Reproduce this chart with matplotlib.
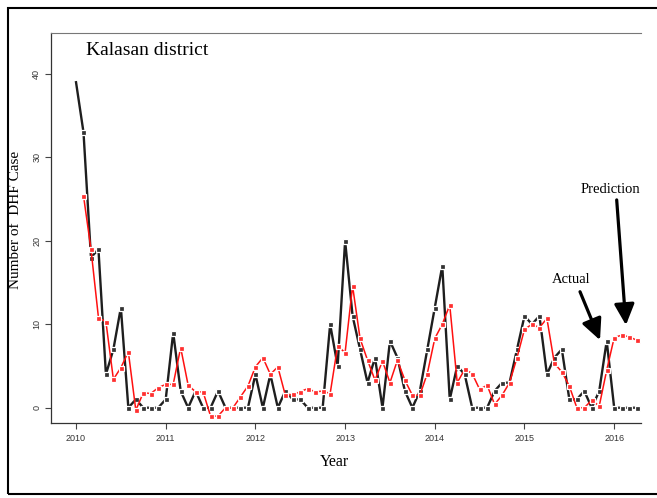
import numpy as np
import matplotlib
matplotlib.use('Agg')
import matplotlib.pyplot as plt
from matplotlib.patches import Rectangle

# monthly DHF cases, Kalasan district, from Jan 2010
actual = [39, 33, 18, 19, 4, 7, 12, 0, 1, 0, 0, 0,
          1, 9, 2, 0, 2, 0, 0, 2, 0, 0, 0, 0,
          4, 0, 4, 0, 2, 1, 1, 0, 0, 0, 10, 5,
          20, 11, 7, 3, 6, 0, 8, 6, 2, 0, 2, 7,
          12, 17, 1, 5, 4, 0, 0, 0, 2, 3, 3, 7,
          11, 10, 11, 4, 6, 7, 1, 1, 2, 0, 2, 8,
          0, 0, 0, 0]
# model prediction, starts Feb 2010
predicted = [25.4, 19.0, 10.8, 10.3, 3.4, 4.8, 6.7, -0.3, 1.8, 1.7, 2.4,
             2.8, 2.8, 7.2, 2.7, 1.9, 1.9, -1.0, -1.0, 0.0, 0.0, 1.3, 2.6,
             4.9, 6.0, 4.0, 4.9, 1.5, 1.6, 1.9, 2.3, 1.9, 2.0, 1.7, 7.4,
             6.6, 14.6, 8.3, 5.7, 3.3, 5.6, 3.0, 5.7, 3.3, 1.5, 1.5, 4.1,
             8.3, 10.0, 12.3, 3.0, 4.6, 4.1, 2.2, 2.7, 0.4, 1.5, 3.0, 6.0,
             9.4, 10.0, 9.6, 10.7, 5.3, 4.3, 2.6, 0.0, 0.0, 0.9, 0.2, 4.5,
             8.4, 8.7, 8.5, 8.1, 7.6]
years = [2010, 2011, 2012, 2013, 2014, 2015, 2016]
yticks = [0, 10, 20, 30, 40]

t_act = 2010 + np.arange(len(actual)) / 12.0
t_pred = 2010 + (np.arange(len(predicted)) + 1) / 12.0

fig = plt.figure(figsize=(6.57, 4.98), dpi=100)
ax = fig.add_axes([51/657, 1-423/498, 590/657, 390/498])

ax.plot(t_act, actual, color='#1e1e1e', lw=1.7, marker='s', ms=3.6,
        mfc='#333333', mec='white', mew=0.9, markevery=list(range(1, len(actual))),
        zorder=2)
ax.plot(t_pred, predicted, color='#ff1010', lw=1.1, marker='s', ms=3.6,
        mfc='#ff3030', mec='white', mew=0.9, zorder=3)

ax.set_xlim(2009.721, 2016.299)
ax.set_ylim(-1.83, 44.9)

ax.set_xticks(years)
ax.set_xticklabels([str(y) for y in years], fontsize=6.5, color='#333333',
                   family='Liberation Sans')
ax.set_yticks(yticks)
ax.set_yticklabels([str(v) for v in yticks], fontsize=6.5, color='#333333',
                   family='Liberation Sans', rotation=90, va='center')
ax.tick_params(axis='x', length=4, width=0.8, color='#444444', pad=4)
ax.tick_params(axis='y', length=4, width=0.8, color='#444444', pad=3)

ax.spines['right'].set_visible(False)
ax.spines['top'].set_color('#777777')
ax.spines['top'].set_linewidth(0.8)
for s in ['left', 'bottom']:
    ax.spines[s].set_color('#333333')
    ax.spines[s].set_linewidth(0.9)

ax.text(0.059, 0.954, 'Kalasan district', transform=ax.transAxes,
        fontsize=14, family='Liberation Serif', va='center', ha='left')

fig.text(334/657, 1-462/498, 'Year', fontsize=11.5, family='Liberation Serif',
         ha='center', va='center')
fig.text(16/657, 1-220/498, 'Number of  DHF Case', fontsize=11, family='Liberation Serif',
         ha='center', va='center', rotation=90)

arrow = dict(arrowstyle='-|>,head_length=0.75,head_width=0.36', lw=2.3,
             color='black', mutation_scale=17, shrinkA=0, shrinkB=0)
ax.text(2015.515, 15.4, 'Actual', fontsize=10.5, family='Liberation Serif',
        ha='center', va='center')
ax.annotate('', xy=(2015.842, 8.1), xytext=(2015.619, 13.9), arrowprops=arrow)
ax.text(2015.961, 26.1, 'Prediction', fontsize=10.5, family='Liberation Serif',
        ha='center', va='center')
ax.annotate('', xy=(2016.131, 9.9), xytext=(2016.028, 24.9), arrowprops=arrow)

# outer frame
fig.add_artist(Rectangle((8/657, 1-494/498), 1.2, 486/498, transform=fig.transFigure,
                         fill=False, lw=1.5, ec='black'))

fig.savefig('out.png', dpi=100)
